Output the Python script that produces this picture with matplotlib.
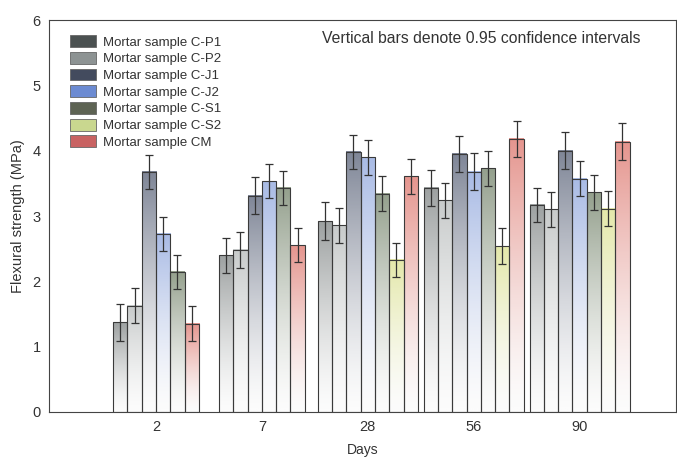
import numpy as np
import matplotlib
matplotlib.use("Agg")
import matplotlib.pyplot as plt
from matplotlib.colors import LinearSegmentedColormap
from matplotlib.patches import Patch

plt.rcParams['font.family'] = ['Liberation Sans', 'DejaVu Sans']

# donnees
days = ["2", "7", "28", "56", "90"]
samples = ["Mortar sample C-P1", "Mortar sample C-P2", "Mortar sample C-J1",
           "Mortar sample C-J2", "Mortar sample C-S1", "Mortar sample C-S2",
           "Mortar sample CM"]

# valeurs par serie (nan = pas de barre)
cp1 = [1.37, 2.40, 2.92, 3.43, 3.17]
cp2 = [1.63, 2.48, 2.86, 3.24, 3.10]
cj1 = [3.68, 3.31, 3.98, 3.95, 4.00]
cj2 = [2.73, 3.53, 3.90, 3.68, 3.57]
cs1 = [2.15, 3.43, 3.34, 3.73, 3.36]
cs2 = [np.nan, np.nan, 2.33, 2.54, 3.11]
cm = [1.35, 2.55, 3.61, 4.18, 4.14]

# demi-largeur des intervalles de confiance
err_cp1 = [0.28, 0.27, 0.29, 0.28, 0.26]
err_cp2 = [0.27, 0.27, 0.27, 0.27, 0.27]
err_cj1 = [0.26, 0.28, 0.26, 0.27, 0.28]
err_cj2 = [0.26, 0.26, 0.27, 0.28, 0.27]
err_cs1 = [0.26, 0.26, 0.27, 0.27, 0.27]
err_cs2 = [np.nan, np.nan, 0.26, 0.28, 0.27]
err_cm = [0.27, 0.26, 0.27, 0.27, 0.28]

vals = [cp1, cp2, cj1, cj2, cs1, cs2, cm]
errs = [err_cp1, err_cp2, err_cj1, err_cj2, err_cs1, err_cs2, err_cm]

leg_colors = ["#4b5151", "#8d9393", "#434b5e", "#6c8bd2", "#5d6353", "#c9d78f", "#c86262"]
top_colors = ["#9da1a1", "#c8cbcb", "#7f8697", "#a9bbe5", "#94a08d", "#e4e8aa", "#e5958e"]

fig = plt.figure(figsize=(6.77, 4.61), dpi=100)
ax = fig.add_axes([0.0724, 0.1063, 0.926, 0.8503])

w = 0.135
grad = (np.linspace(0, 1, 256) ** 1.4).reshape(-1, 1)  # degrade blanc -> couleur
for g in range(len(days)):
    present = [s for s in range(len(vals)) if not np.isnan(vals[s][g])]
    n = len(present)
    for k, s in enumerate(present):
        x = g + (k - (n - 1) / 2) * w
        h = vals[s][g]
        cmap = LinearSegmentedColormap.from_list("c", ["#fcfcfc", top_colors[s]])
        ax.imshow(grad, extent=[x - w / 2, x + w / 2, 0, h], origin="lower",
                  cmap=cmap, aspect="auto", zorder=1, interpolation="bilinear")
        ax.bar(x, h, w, fill=False, edgecolor="#3a3a3a", lw=0.8, zorder=2)
        ax.errorbar(x, h, yerr=errs[s][g], fmt="none", ecolor="#333333",
                    elinewidth=0.9, capsize=2.8, capthick=0.9, zorder=3)

ax.set_xlim(-1.01, 4.91)
ax.set_ylim(0, 6)
ax.set_xticks(range(len(days)))
ax.set_xticklabels(days)
ax.set_yticks(range(7))
ax.tick_params(length=0, labelsize=10.5, colors="#333333", pad=6)
for sp in ax.spines.values():
    sp.set_color("#444444")
    sp.set_linewidth(0.8)

ax.set_xlabel("Days", fontsize=10, color="#333333", labelpad=6)
ax.set_ylabel("Flexural strength (MPa)", fontsize=10.5, color="#333333", labelpad=5)
ax.text(0.436, 0.942, "Vertical bars denote 0.95 confidence intervals",
        transform=ax.transAxes, fontsize=11.3, color="#333333")

handles = [Patch(facecolor=leg_colors[i], edgecolor="#666666", lw=0.6) for i in range(len(samples))]
ax.legend(handles, samples, loc="upper left", bbox_to_anchor=(0.025, 0.975), frameon=False,
          fontsize=9.5, handlelength=2.0, handleheight=1.0, labelspacing=0.25,
          handletextpad=0.5, borderaxespad=0, labelcolor="#333333")

plt.savefig("out.png", dpi=100)
